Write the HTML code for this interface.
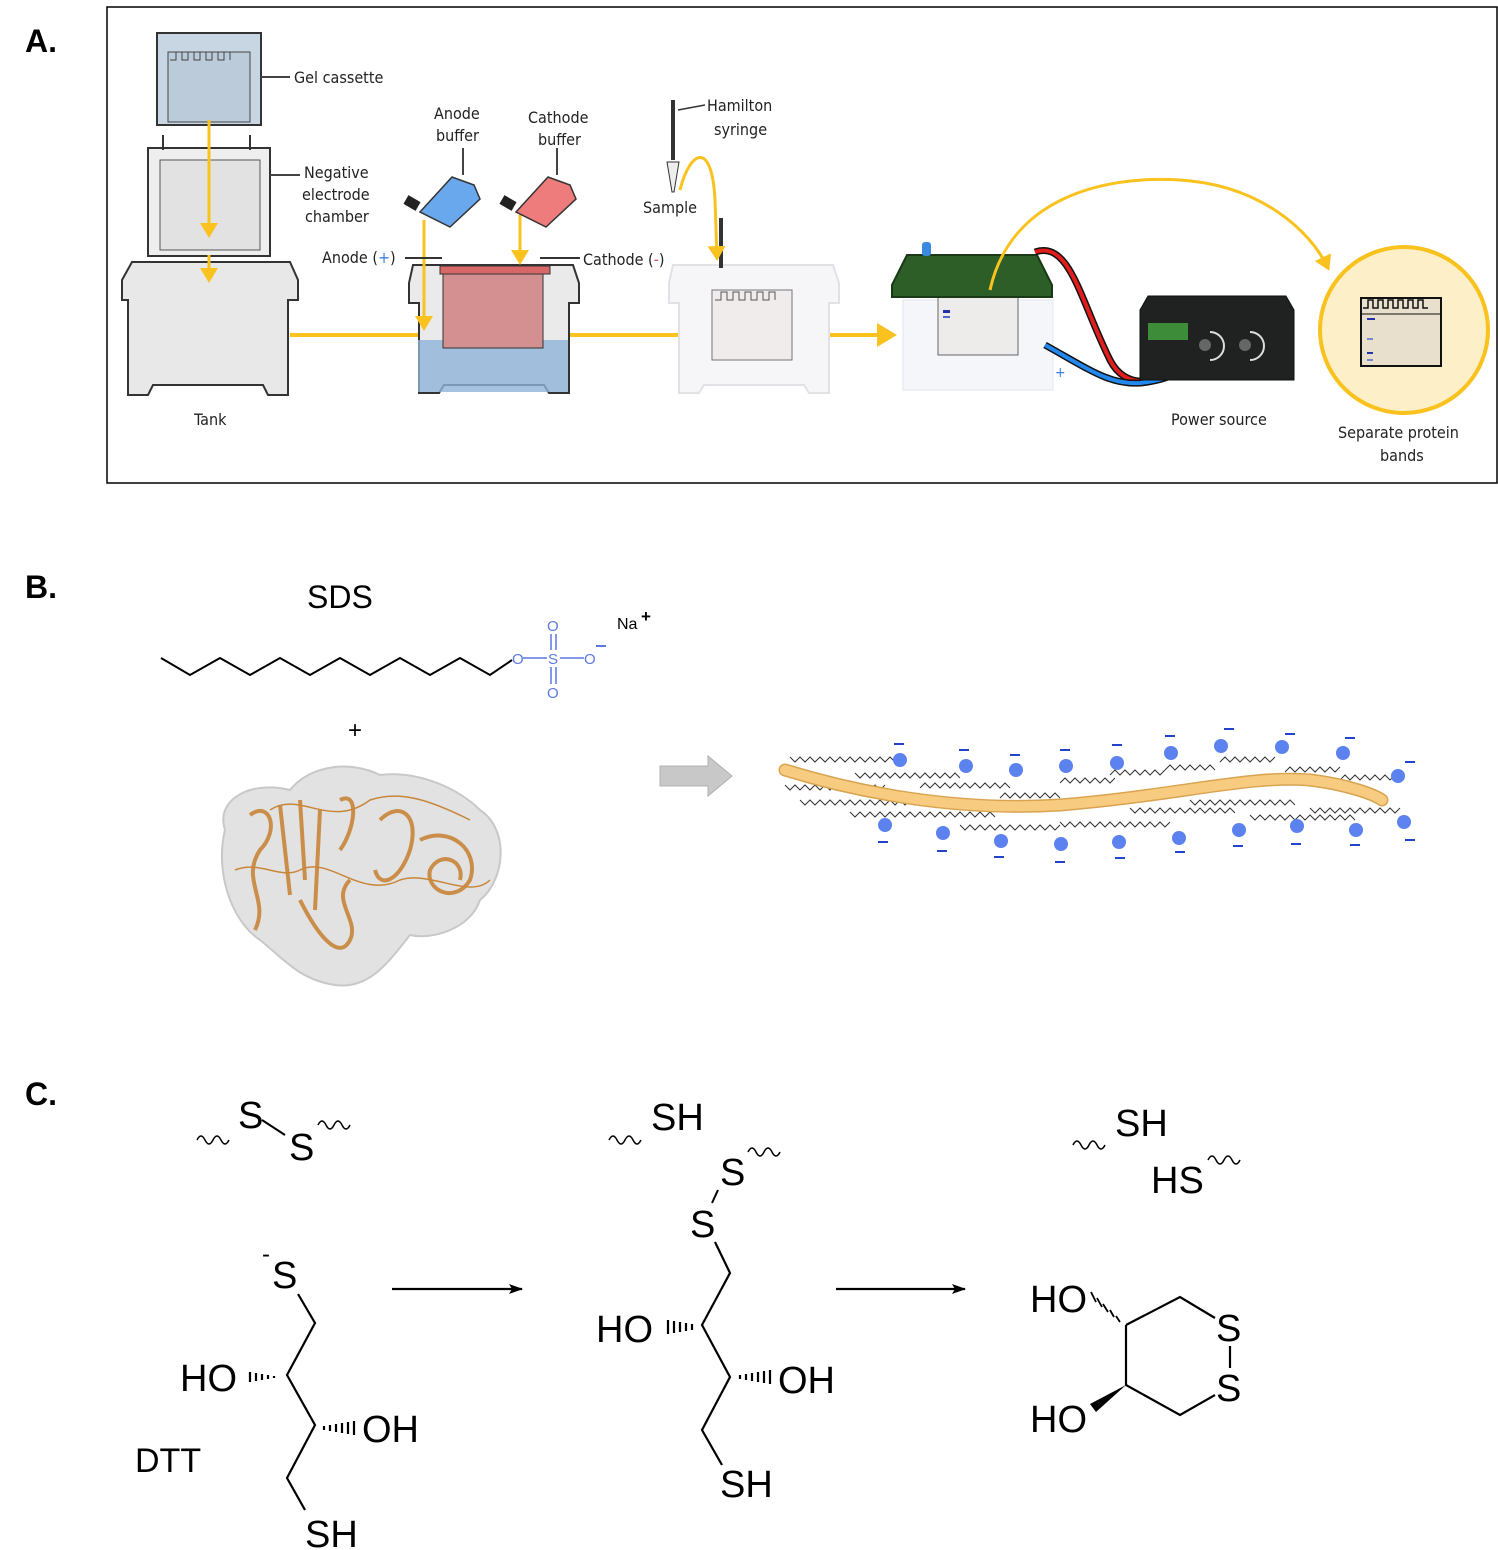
<!DOCTYPE html>
<html><head><meta charset="utf-8"><style>
html,body{margin:0;padding:0;background:#fff;}
svg{display:block;}
.l{font-family:"Liberation Sans",sans-serif;}
</style></head><body>
<svg width="1498" height="1550" viewBox="0 0 1498 1550" xmlns="http://www.w3.org/2000/svg" class="l">
<defs>
<marker id="ya" markerWidth="6" markerHeight="6" refX="4" refY="3" orient="auto" markerUnits="strokeWidth"><path d="M0,0 L5,3 L0,6 z" fill="#f9c21f"/></marker>
<marker id="ka" markerWidth="14" markerHeight="10" refX="13" refY="5" orient="auto" markerUnits="userSpaceOnUse"><path d="M0,0 L14,5 L0,10 L3,5 z" fill="#000"/></marker>
</defs>
<text x="25" y="52" font-size="32" font-weight="bold">A.</text>
<text x="25" y="598" font-size="32" font-weight="bold">B.</text>
<text x="25" y="1105" font-size="32" font-weight="bold">C.</text>
<rect x="107" y="7" width="1390" height="476" fill="none" stroke="#000" stroke-width="1.5"/>

<g font-family="'DejaVu Sans Condensed','Liberation Sans Narrow',sans-serif" font-size="16" fill="#222">
<rect x="157" y="33" width="104" height="92" fill="#c8d6e4" stroke="#333" stroke-width="2"/>
<rect x="168" y="52" width="82" height="70" fill="#bccbda" stroke="#444"/>
<path d="M170,60 h6 v-8 h6 v8 h6 v-8 h6 v8 h6 v-8 h6 v8 h6 v-8 h6 v8 h6 v-8 h6 v8" fill="none" stroke="#444"/>
<line x1="261" y1="77" x2="290" y2="77" stroke="#444" stroke-width="2"/>
<text x="294" y="83">Gel cassette</text>
<rect x="148" y="148" width="122" height="108" fill="#eee" stroke="#333" stroke-width="2"/>
<rect x="160" y="160" width="100" height="90" fill="#e2e2e2" stroke="#555"/>
<line x1="163" y1="135" x2="163" y2="150" stroke="#333" stroke-width="2"/><line x1="250" y1="135" x2="250" y2="150" stroke="#333" stroke-width="2"/>
<line x1="270" y1="175" x2="300" y2="175" stroke="#444" stroke-width="2"/>
<text x="304" y="178">Negative</text><text x="302" y="200">electrode</text><text x="305" y="222">chamber</text>
<path d="M132,262 h158 l8,18 v20 h-10 v95 h-20 l-5,-10 h-110 l-5,10 h-20 v-95 h-6 v-20 z" fill="#e8e8e8" stroke="#333" stroke-width="2"/>
<text x="194" y="425">Tank</text>
<line x1="209" y1="120" x2="209" y2="235" stroke="#f9c21f" stroke-width="3" marker-end="url(#ya)"/>
<line x1="209" y1="255" x2="209" y2="280" stroke="#f9c21f" stroke-width="3" marker-end="url(#ya)"/>
<line x1="290" y1="335" x2="893" y2="335" stroke="#f9c21f" stroke-width="4" marker-end="url(#ya)"/>
<path d="M413,265 h160 l6,18 v20 h-10 v90 h-20 l-5,-8 h-100 l-5,8 h-20 v-90 h-10 v-20 z" fill="#eaeaea" stroke="#333" stroke-width="2"/>
<rect x="418" y="340" width="150" height="52" fill="#8fb4da" opacity="0.8"/>
<rect x="443" y="268" width="100" height="80" fill="#d49090" stroke="#333"/>
<rect x="440" y="266" width="110" height="8" fill="#d86868" stroke="#333"/>
<line x1="424" y1="220" x2="424" y2="328" stroke="#f9c21f" stroke-width="3" marker-end="url(#ya)"/>
<line x1="520" y1="215" x2="520" y2="262" stroke="#f9c21f" stroke-width="3" marker-end="url(#ya)"/>
<path d="M420,212 l32,-35 l22,8 l6,14 l-30,28 z" fill="#6aa8ee" stroke="#333" stroke-width="1.5"/>
<rect x="405" y="198" width="14" height="10" fill="#222" transform="rotate(30 412 203)"/>
<path d="M516,212 l32,-35 l22,8 l6,14 l-30,28 z" fill="#ee7c7c" stroke="#333" stroke-width="1.5"/>
<rect x="501" y="198" width="14" height="10" fill="#222" transform="rotate(30 508 203)"/>
<line x1="463" y1="148" x2="463" y2="175" stroke="#444" stroke-width="2"/>
<line x1="557" y1="148" x2="557" y2="175" stroke="#444" stroke-width="2"/>
<text x="434" y="119">Anode</text><text x="436" y="141">buffer</text>
<text x="528" y="123">Cathode</text><text x="538" y="145">buffer</text>
<text x="322" y="263">Anode (<tspan fill="#3b7de0">+</tspan>)</text>
<line x1="405" y1="258" x2="442" y2="258" stroke="#333" stroke-width="2"/>
<line x1="540" y1="258" x2="580" y2="258" stroke="#333" stroke-width="2"/>
<text x="583" y="265">Cathode (<tspan fill="#e05555">-</tspan>)</text>
<path d="M673,265 h160 l6,18 v20 h-10 v90 h-20 l-5,-8 h-100 l-5,8 h-20 v-90 h-10 v-20 z" fill="#f6f6f8" stroke="#e2e2e6" stroke-width="2"/>
<rect x="712" y="290" width="80" height="70" fill="#f0ecec" stroke="#777"/>
<path d="M715,300 h6 v-8 h6 v8 h6 v-8 h6 v8 h6 v-8 h6 v8 h6 v-8 h6 v8 h6 v-8 h6 v8" fill="none" stroke="#555"/>
<line x1="673" y1="100" x2="673" y2="160" stroke="#333" stroke-width="4"/>
<path d="M667,162 h12 l-5,30 h-2 z" fill="#eee" stroke="#333"/>
<line x1="721" y1="218" x2="721" y2="268" stroke="#333" stroke-width="4"/>
<path d="M680,190 C690,150 712,140 715,200 L717,258" fill="none" stroke="#f9c21f" stroke-width="3" marker-end="url(#ya)"/>
<line x1="678" y1="110" x2="705" y2="105" stroke="#333" stroke-width="1.5"/>
<text x="707" y="111">Hamilton</text><text x="714" y="135">syringe</text>
<text x="643" y="213">Sample</text>
<path d="M903,300 h150 v90 h-150 z" fill="#f4f6fa" stroke="#e2e6ee"/>
<rect x="938" y="295" width="80" height="60" fill="#eeeceb" stroke="#666"/>
<path d="M892,285 l15,-30 h130 l15,30 v12 h-160 z" fill="#2e5e28" stroke="#1a3a16" stroke-width="2"/>
<rect x="922" y="242" width="9" height="14" rx="3" fill="#3a8ae0"/>
<rect x="943" y="310" width="7" height="3" fill="#2233aa"/><rect x="943" y="316" width="7" height="2" fill="#5566cc"/>
<path d="M1035,252 C1070,240 1080,300 1110,360 C1125,390 1160,385 1165,365" fill="none" stroke="#111" stroke-width="7"/>
<path d="M1035,252 C1070,240 1080,300 1110,360 C1125,390 1160,385 1165,365" fill="none" stroke="#e01c1c" stroke-width="4"/>
<path d="M1045,345 C1090,370 1110,385 1140,383 C1170,380 1185,370 1190,360" fill="none" stroke="#111" stroke-width="7"/>
<path d="M1045,345 C1090,370 1110,385 1140,383 C1170,380 1185,370 1190,360" fill="none" stroke="#2288ee" stroke-width="4"/>
<text x="1055" y="377" fill="#3b7de0" font-size="14">+</text>
<path d="M1140,310 l8,-14 h138 l8,14 v70 h-154 z" fill="#1f2220" stroke="#111"/>
<rect x="1148" y="323" width="40" height="17" fill="#3c8c3a"/>
<circle cx="1205" cy="345" r="6" fill="#666"/><circle cx="1245" cy="345" r="6" fill="#666"/>
<path d="M1210,332 a14,14 0 0 1 0,28" fill="none" stroke="#ddd" stroke-width="2"/>
<path d="M1250,332 a14,14 0 0 1 0,28" fill="none" stroke="#ddd" stroke-width="2"/>
<path d="M990,290 C1010,200 1100,175 1180,180 C1260,185 1310,230 1328,268" fill="none" stroke="#f9c21f" stroke-width="3" marker-end="url(#ya)"/>
<text x="1171" y="425">Power source</text>
<ellipse cx="1404" cy="330" rx="84" ry="83" fill="#fdf0c8" stroke="#f9c21f" stroke-width="4"/>
<rect x="1361" y="298" width="80" height="68" fill="#e8e0cc" stroke="#111" stroke-width="2"/>
<path d="M1363,308 h5 v-8 h5 v8 h5 v-8 h5 v8 h5 v-8 h5 v8 h5 v-8 h5 v8 h5 v-8 h5 v8 h5 v-8 h5 v8 h5" fill="none" stroke="#111" stroke-width="1.5"/>
<line x1="1361" y1="314" x2="1441" y2="314" stroke="#111"/>
<rect x="1367" y="318" width="8" height="2" fill="#2233aa"/><rect x="1367" y="338" width="6" height="2" fill="#7788cc"/><rect x="1367" y="352" width="6" height="2" fill="#2233aa"/><rect x="1367" y="359" width="6" height="2" fill="#7788cc"/>
<text x="1338" y="438">Separate protein</text><text x="1380" y="461">bands</text>
</g>

<text x="307" y="608" font-size="32">SDS</text>
<polyline points="161,658 190,675 220,658 250,675 280,658 310,675 340,658 370,675 400,658 430,675 460,658 490,675 512,660" fill="none" stroke="#000" stroke-width="2"/>
<g fill="#5b79e0" stroke="#5b79e0" font-size="15">
<text x="512" y="664" stroke="none">O</text>
<line x1="523" y1="658" x2="547" y2="658" stroke-width="1.5"/>
<text x="548" y="664" stroke="none">S</text>
<line x1="560" y1="658" x2="584" y2="658" stroke-width="1.5"/>
<text x="584" y="664" stroke="none">O</text>
<text x="547" y="631" stroke="none">O</text>
<text x="547" y="698" stroke="none">O</text>
<line x1="551" y1="634" x2="551" y2="650" stroke-width="1.5"/><line x1="556" y1="634" x2="556" y2="650" stroke-width="1.5"/>
<line x1="551" y1="667" x2="551" y2="684" stroke-width="1.5"/><line x1="556" y1="667" x2="556" y2="684" stroke-width="1.5"/>
<line x1="596" y1="646" x2="606" y2="646" stroke-width="2"/>
</g>
<text x="617" y="629" font-size="16">Na</text><text x="641" y="622" font-size="17" font-weight="bold">+</text>
<text x="348" y="738" font-size="24">+</text>
<path d="M225,830 C215,800 250,780 290,790 C310,765 350,760 380,775 C420,770 460,790 480,810 C510,830 505,880 480,900 C470,930 430,940 410,935 C390,960 370,990 335,985 C300,980 285,960 260,940 C230,920 215,870 225,830 z" fill="#e2e2e2" stroke="#c8c8c8" stroke-width="2"/>
<g fill="none" stroke="#c8863a" stroke-width="4" opacity="0.9">
<path d="M250,815 C270,800 280,830 260,850 C240,880 270,900 255,930"/>
<path d="M280,805 l10,90 M300,800 l5,80 M320,810 l-5,100 M340,800 C360,790 355,830 340,850"/>
<path d="M380,820 C400,800 420,815 410,850 C400,880 380,890 375,870"/>
<path d="M420,840 C450,825 480,850 470,880 C455,905 425,890 430,870 C440,850 465,860 460,880"/>
<path d="M300,900 C320,940 340,960 350,940 C360,920 330,900 350,880"/>
</g>
<g fill="none" stroke="#c8863a" stroke-width="1.5"><path d="M235,870 C260,860 280,880 300,870 C330,855 360,900 400,880 C430,870 470,900 490,880"/><path d="M270,810 C300,790 330,830 370,800 C400,790 430,800 470,820"/></g>
<path d="M660,766 h48 v-10 l24,20 l-24,20 v-10 h-48 z" fill="#c8c8c8" stroke="#b0b0b0"/>
<g fill="none" stroke="#333" stroke-width="1">
<polyline points="790,757 795,762 800,757 805,762 810,757 815,762 820,757 825,762 830,757 835,762 840,757 845,762 850,757 855,762 860,757 865,762 870,757 875,762 880,757 885,762 890,757 895,762"/>
<polyline points="855,773 860,778 865,773 870,778 875,773 880,778 885,773 890,778 895,773 900,778 905,773 910,778 915,773 920,778 925,773 930,778 935,773 940,778 945,773 950,778 955,773 960,778"/>
<polyline points="920,788 925,783 930,788 935,783 940,788 945,783 950,788 955,783 960,788 965,783 970,788 975,783 980,788 985,783 990,788 995,783 1000,788 1005,783 1010,788"/>
<polyline points="1000,798 1005,793 1010,798 1015,793 1020,798 1025,793 1030,798 1035,793 1040,798 1045,793 1050,798 1055,793 1060,798"/>
<polyline points="1060,783 1065,778 1070,783 1075,778 1080,783 1085,778 1090,783 1095,778 1100,783 1105,778 1110,783 1115,778"/>
<polyline points="1110,775 1115,770 1120,775 1125,770 1130,775 1135,770 1140,775 1145,770 1150,775 1155,770 1160,775 1165,770"/>
<polyline points="1165,770 1170,765 1175,770 1180,765 1185,770 1190,765 1195,770 1200,765 1205,770 1210,765 1215,770"/>
<polyline points="1220,762 1225,757 1230,762 1235,757 1240,762 1245,757 1250,762 1255,757 1260,762 1265,757 1270,762 1275,757"/>
<polyline points="1285,772 1290,767 1295,772 1300,767 1305,772 1310,767 1315,772 1320,767 1325,772 1330,767 1335,772 1340,767"/>
<polyline points="1340,780 1345,775 1350,780 1355,775 1360,780 1365,775 1370,780 1375,775 1380,780 1385,775 1390,780 1395,775"/>
<polyline points="785,785 790,790 795,785 800,790 805,785 810,790 815,785 820,790 825,785 830,790 835,785 840,790 845,785 850,790 855,785 860,790 865,785 870,790 875,785 880,790 885,785"/>
<polyline points="800,800 805,805 810,800 815,805 820,800 825,805 830,800 835,805 840,800 845,805 850,800 855,805 860,800 865,805 870,800 875,805 880,800 885,805 890,800 895,805 900,800 905,805 910,800 915,805 920,800 925,805 930,800 935,805 940,800"/>
<polyline points="850,812 855,817 860,812 865,817 870,812 875,817 880,812 885,817 890,812 895,817 900,812 905,817 910,812 915,817 920,812 925,817 930,812 935,817 940,812 945,817 950,812 955,817 960,812 965,817 970,812 975,817 980,812 985,817 990,812 995,817"/>
<polyline points="960,825 965,830 970,825 975,830 980,825 985,830 990,825 995,830 1000,825 1005,830 1010,825 1015,830 1020,825 1025,830 1030,825 1035,830 1040,825 1045,830 1050,825 1055,830 1060,825"/>
<polyline points="1060,822 1065,827 1070,822 1075,827 1080,822 1085,827 1090,822 1095,827 1100,822 1105,827 1110,822 1115,827 1120,822 1125,827 1130,822 1135,827 1140,822 1145,827 1150,822 1155,827 1160,822 1165,827 1170,822"/>
<polyline points="1130,808 1135,813 1140,808 1145,813 1150,808 1155,813 1160,808 1165,813 1170,808 1175,813 1180,808 1185,813 1190,808 1195,813 1200,808 1205,813 1210,808 1215,813 1220,808 1225,813 1230,808 1235,813"/>
<polyline points="1190,800 1195,805 1200,800 1205,805 1210,800 1215,805 1220,800 1225,805 1230,800 1235,805 1240,800 1245,805 1250,800 1255,805 1260,800 1265,805 1270,800 1275,805 1280,800 1285,805 1290,800 1295,805"/>
<polyline points="1250,815 1255,820 1260,815 1265,820 1270,815 1275,820 1280,815 1285,820 1290,815 1295,820 1300,815 1305,820 1310,815 1315,820 1320,815 1325,820 1330,815 1335,820 1340,815 1345,820 1350,815 1355,820"/>
<polyline points="1310,808 1315,813 1320,808 1325,813 1330,808 1335,813 1340,808 1345,813 1350,808 1355,813 1360,808 1365,813 1370,808 1375,813 1380,808 1385,813 1390,808 1395,813 1400,808"/>
</g>
<path d="M785,770 C850,790 950,812 1060,805 C1180,795 1250,775 1310,780 C1350,785 1375,795 1382,800" fill="none" stroke="#d9a450" stroke-width="13" stroke-linecap="round"/>
<path d="M785,770 C850,790 950,812 1060,805 C1180,795 1250,775 1310,780 C1350,785 1375,795 1382,800" fill="none" stroke="#f7cc80" stroke-width="10" stroke-linecap="round"/>
<g fill="#5b82ee">
<circle cx="900" cy="760" r="7"/><circle cx="966" cy="766" r="7"/><circle cx="1016" cy="770" r="7"/><circle cx="1066" cy="766" r="7"/><circle cx="1117" cy="763" r="7"/><circle cx="1171" cy="753" r="7"/><circle cx="1221" cy="746" r="7"/><circle cx="1282" cy="747" r="7"/><circle cx="1343" cy="753" r="7"/><circle cx="1398" cy="776" r="7"/>
<circle cx="885" cy="825" r="7"/><circle cx="943" cy="833" r="7"/><circle cx="1001" cy="841" r="7"/><circle cx="1061" cy="844" r="7"/><circle cx="1119" cy="842" r="7"/><circle cx="1179" cy="838" r="7"/><circle cx="1239" cy="830" r="7"/><circle cx="1297" cy="826" r="7"/><circle cx="1356" cy="830" r="7"/><circle cx="1404" cy="822" r="7"/>
</g>
<g stroke="#2244cc" stroke-width="2">
<line x1="894" y1="744" x2="904" y2="744"/><line x1="959" y1="750" x2="969" y2="750"/><line x1="1010" y1="755" x2="1020" y2="755"/><line x1="1060" y1="750" x2="1070" y2="750"/><line x1="1112" y1="745" x2="1122" y2="745"/><line x1="1165" y1="736" x2="1175" y2="736"/><line x1="1224" y1="729" x2="1234" y2="729"/><line x1="1285" y1="734" x2="1295" y2="734"/><line x1="1345" y1="738" x2="1355" y2="738"/><line x1="1405" y1="762" x2="1415" y2="762"/>
<line x1="878" y1="842" x2="888" y2="842"/><line x1="937" y1="851" x2="947" y2="851"/><line x1="994" y1="857" x2="1004" y2="857"/><line x1="1055" y1="862" x2="1065" y2="862"/><line x1="1115" y1="858" x2="1125" y2="858"/><line x1="1175" y1="852" x2="1185" y2="852"/><line x1="1233" y1="846" x2="1243" y2="846"/><line x1="1291" y1="844" x2="1301" y2="844"/><line x1="1350" y1="845" x2="1360" y2="845"/><line x1="1405" y1="840" x2="1415" y2="840"/>
</g>

<g font-size="38" fill="#000">
<path d="M197,1140 q4,-8 8,0 q4,8 8,0 q4,-8 8,0 q4,8 8,0" fill="none" stroke="#000" stroke-width="1.5"/>
<text x="238" y="1128">S</text>
<line x1="262" y1="1120" x2="285" y2="1135" stroke="#000" stroke-width="2"/>
<text x="289" y="1160">S</text>
<path d="M318,1125 q4,-8 8,0 q4,8 8,0 q4,-8 8,0 q4,8 8,0" fill="none" stroke="#000" stroke-width="1.5"/>
<path d="M609,1140 q4,-8 8,0 q4,8 8,0 q4,-8 8,0 q4,8 8,0" fill="none" stroke="#000" stroke-width="1.5"/>
<text x="651" y="1130">SH</text>
<text x="720" y="1185">S</text>
<path d="M748,1152 q4,-8 8,0 q4,8 8,0 q4,-8 8,0 q4,8 8,0" fill="none" stroke="#000" stroke-width="1.5"/>
<line x1="718" y1="1190" x2="712" y2="1203" stroke="#000" stroke-width="2"/>
<text x="690" y="1237">S</text>
<path d="M1073,1145 q4,-8 8,0 q4,8 8,0 q4,-8 8,0 q4,8 8,0" fill="none" stroke="#000" stroke-width="1.5"/>
<text x="1115" y="1136">SH</text>
<text x="1151" y="1193">HS</text>
<path d="M1208,1160 q4,-8 8,0 q4,8 8,0 q4,-8 8,0 q4,8 8,0" fill="none" stroke="#000" stroke-width="1.5"/>
<text x="262" y="1262" font-size="24">-</text>
<text x="272" y="1288">S</text>
<text x="180" y="1391">HO</text>
<text x="362" y="1442">OH</text>
<text x="135" y="1472" font-size="34">DTT</text>
<text x="305" y="1547">SH</text>
<g stroke="#000" stroke-width="2.2" fill="none">
<polyline points="298,1294 315,1323 287,1375 315,1425 287,1478 305,1510"/>
<path d="M250,1372 v10 M256,1373 v8 M262,1374 v6 M268,1375 v4 M274,1376 v2"/>
<path d="M354,1421 v14 M348,1422 v12 M342,1423 v10 M336,1424 v8 M330,1425 v6 M324,1426 v4"/>
<line x1="392" y1="1289" x2="522" y2="1289" marker-end="url(#ka)"/>
<line x1="836" y1="1289" x2="965" y2="1289" marker-end="url(#ka)"/>
<polyline points="715,1242 730,1273 702,1325 730,1377 702,1430 722,1465"/>
<path d="M668,1320 v14 M674,1321 v12 M680,1322 v10 M686,1323 v8 M692,1324 v6"/>
<path d="M770,1370 v14 M764,1371 v12 M758,1372 v10 M752,1373 v8 M746,1374 v6 M740,1375 v4"/>
<polyline points="1126,1325 1180,1297 1215,1318"/>
<polyline points="1215,1395 1180,1415 1126,1385 1126,1325"/>
<line x1="1230" y1="1346" x2="1230" y2="1368"/>
<path d="M1120,1322 l-4,-6 M1114,1317 l-4,-7 M1108,1312 l-5,-8 M1102,1307 l-5,-9 M1096,1302 l-5,-10" stroke-width="1.8"/>
</g>
<path d="M1126,1385 L1090,1404 L1096,1412 Z" fill="#000"/>
<text x="596" y="1342">HO</text>
<text x="778" y="1393">OH</text>
<text x="720" y="1497">SH</text>
<text x="1030" y="1312">HO</text>
<text x="1216" y="1341">S</text>
<text x="1216" y="1401">S</text>
<text x="1030" y="1432">HO</text>
</g>
</svg>
</body></html>
